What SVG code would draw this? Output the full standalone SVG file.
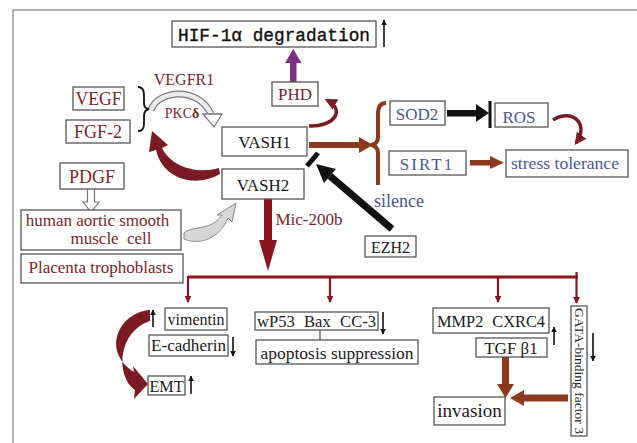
<svg xmlns="http://www.w3.org/2000/svg" width="637" height="443" viewBox="0 0 637 443">
<style>
.box{fill:#fff;stroke:#555;stroke-width:1.3}
.t{font-family:"Liberation Serif",serif;text-anchor:middle}
.red{fill:#7b1f2b}
.blue{fill:#4a5590}
.blk{fill:#1a1a1a}
.thin{stroke:#111;stroke-width:1.6;fill:none;marker-end:url(#ah)}
.drop{stroke:#8a1520;stroke-width:2.2;fill:none;marker-end:url(#ahr)}
</style>
<defs>
<marker id="ah" viewBox="0 0 10 10" refX="9" refY="5" markerWidth="6" markerHeight="6" orient="auto" markerUnits="userSpaceOnUse"><path d="M0,0 L10,5 L0,10 Z" fill="#111"/></marker>
<marker id="ahr" viewBox="0 0 10 10" refX="9" refY="5" markerWidth="7" markerHeight="7" orient="auto" markerUnits="userSpaceOnUse"><path d="M0,0 L10,5 L0,10 Z" fill="#8a1520"/></marker>
<marker id="ahc" viewBox="0 0 10 10" refX="8" refY="5" markerWidth="12" markerHeight="12" orient="auto" markerUnits="userSpaceOnUse"><path d="M0,0 L10,5 L0,10 Z" fill="#7a1a22"/></marker>
</defs>
<rect width="637" height="443" fill="#fff"/>
<path d="M13,443 L13,10 L637,10" fill="none" stroke="#999" stroke-width="1.5"/>

<g id="connectors">
  <!-- purple PHD -> HIF -->
  <rect x="290" y="61" width="6.5" height="21" fill="#7d2f82"/>
  <polygon points="285,63 293.3,49 301.5,63" fill="#7d2f82"/>
  <!-- HIF up arrow -->
  <line x1="384" y1="47" x2="384" y2="20" class="thin"/>
  <!-- VASH1 -> PHD curve -->
  <path d="M309,126 C334,127 346,110 327,100" fill="none" stroke="#7a1a22" stroke-width="3.5" marker-end="url(#ahc)"/>
  <!-- VASH1 -> bracket brown -->
  <rect x="309" y="142" width="52" height="6" fill="#8b3a1e"/>
  <polygon points="359,137 373,145 359,153" fill="#8b3a1e"/>
  <!-- brown bracket -->
  <path d="M386,103 Q378,103 378,114 L378,137 Q378,144 371,145 Q378,146 378,153 L378,185" fill="none" stroke="#8b3a1e" stroke-width="4"/>
  <!-- SOD2 -| ROS -->
  <rect x="447" y="110" width="31" height="6.5" fill="#111"/>
  <polygon points="476,104 489,113 476,122" fill="#111"/>
  <rect x="488.5" y="101" width="3" height="27" fill="#111"/>
  <!-- ROS -> stress tolerance curve -->
  <path d="M553,120 C572,108 590,124 576,143" fill="none" stroke="#7a1a22" stroke-width="3.5" marker-end="url(#ahc)"/>
  <!-- SIRT1 -> stress tolerance -->
  <rect x="470" y="160" width="22" height="5.5" fill="#8b3a1e"/>
  <polygon points="490,156 504,162.7 490,169" fill="#8b3a1e"/>
  <!-- EZH2 -| VASH1 -->
  <line x1="392" y1="229" x2="330" y2="176" stroke="#111" stroke-width="7"/>
  <polygon points="336,169 316,164 324,183" fill="#111"/>
  <line x1="307" y1="166" x2="318" y2="153" stroke="#111" stroke-width="5"/>
  <!-- VEGFR1 / PKCd hollow arc -->
  <path d="M151,110 C158,90 198,86 211,114" fill="none" stroke="#777" stroke-width="7"/>
  <path d="M151,110 C158,90 198,86 211,114" fill="none" stroke="#ececec" stroke-width="4.5"/>
  <polygon points="203,114 222,114 214,127" fill="#fff" stroke="#777" stroke-width="1.3"/>
  <!-- brace black -->
  <path d="M138,87 Q144,87 144,95 L144,103 Q144,109 149,109 Q144,110 144,116 L144,124 Q144,131 138,131" fill="none" stroke="#111" stroke-width="1.8"/>
  <!-- VASH2 -> FGF-2 curve -->
  <path d="M220,174 C196,188 163,180 156,150 L149,152 L152,131 L168,145 L162,148 C172,168 198,174 219,168 Z" fill="#7a1a22"/>
  <!-- PDGF -> human hollow arrow -->
  <path d="M87.5,189 L87.5,202 L83,202 L91,212 L99,202 L94.5,202 L94.5,189" fill="#fff" stroke="#777" stroke-width="1.2"/>
  <!-- human -> VASH2 gray curve -->
  <path d="M184,233 C192,225 210,232 222,215 L217,215 L236,203 L232,222 L228,218 C220,238 200,246 184,239 Z" fill="#d6d6d6" stroke="#888" stroke-width="1"/>
  <!-- VASH2 down arrow -->
  <rect x="264" y="199" width="8" height="43" fill="#8a1520"/>
  <polygon points="259,240 277,240 268,271" fill="#8a1520"/>
  <!-- distribution line -->
  <line x1="188" y1="277" x2="578" y2="277" stroke="#8a1520" stroke-width="3"/>
  <line x1="188" y1="276" x2="188" y2="302" class="drop"/>
  <line x1="330" y1="277" x2="330" y2="302" class="drop"/>
  <line x1="498" y1="277" x2="498" y2="302" class="drop"/>
  <line x1="576.5" y1="272" x2="576.5" y2="303" class="drop"/>
  <!-- EMT big curve -->
  <path d="M150,310 C120,312 100,350 134,372 L133,366 L148,384 L134,399 L135,390 C115,376 118,331 150,321 Z" fill="#7a1a22"/>
  <!-- small up/down arrows -->
  <line x1="153" y1="327" x2="153" y2="310" class="thin"/>
  <line x1="233" y1="337" x2="233" y2="356" class="thin"/>
  <line x1="191" y1="394" x2="191" y2="376" class="thin"/>
  <line x1="383" y1="312" x2="383" y2="334" class="thin"/>
  <line x1="554" y1="345" x2="554" y2="327" class="thin"/>
  <line x1="593" y1="333" x2="593" y2="361" class="thin"/>
  <!-- wP53 -> apoptosis -->
  <line x1="320" y1="330" x2="320" y2="340" stroke="#555" stroke-width="1.3"/>
  <!-- TGF -> invasion -->
  <rect x="502" y="357" width="7" height="28" fill="#8b3a1e"/>
  <polygon points="497,384 514,384 505.5,398" fill="#8b3a1e"/>
  <!-- GATA -> invasion -->
  <rect x="522" y="394.5" width="46" height="7" fill="#8b3a1e"/>
  <polygon points="524,390 510,398 524,406" fill="#8b3a1e"/>
</g>

<g id="hif">
  <rect class="box" x="172" y="21" width="204" height="26"/>
  <text x="274" y="41" font-family="'Liberation Mono',monospace" font-size="19" text-anchor="middle" fill="#111" stroke="#111" stroke-width="0.4" textLength="192" lengthAdjust="spacingAndGlyphs">HIF-1α degradation</text>
</g>
<g id="phd">
  <rect class="box" x="272" y="82" width="46" height="24"/>
  <text class="t red" x="295" y="100" font-size="17">PHD</text>
</g>
<g id="vegf">
  <rect class="box" x="73" y="87" width="51" height="23"/>
  <text class="t red" x="98.5" y="105" font-size="18" textLength="46" lengthAdjust="spacingAndGlyphs">VEGF</text>
</g>
<g id="fgf2">
  <rect class="box" x="66" y="120" width="64" height="23"/>
  <text class="t red" x="98" y="138" font-size="18">FGF-2</text>
</g>
<g id="vegfr1-label">
  <text class="t red" x="184" y="85" font-size="16">VEGFR1</text>
  <text class="t red" x="182" y="118" font-size="14">PKC<tspan font-weight="bold">δ</tspan></text>
</g>
<g id="vash1">
  <rect class="box" x="222" y="127" width="85" height="29"/>
  <text class="t blk" x="264.5" y="148" font-size="17">VASH1</text>
</g>
<g id="vash2">
  <rect class="box" x="222" y="169" width="82" height="30"/>
  <text class="t blk" x="263" y="191" font-size="17">VASH2</text>
</g>
<g id="sod2">
  <rect class="box" x="390" y="101" width="55" height="24"/>
  <text class="t blue" x="417" y="120" font-size="17">SOD2</text>
</g>
<g id="ros">
  <rect class="box" x="495" y="103" width="53" height="24"/>
  <text class="t blue" x="519" y="123" font-size="17">ROS</text>
</g>
<g id="sirt1">
  <rect class="box" x="389" y="151" width="77" height="24"/>
  <text class="t blue" x="427" y="170" font-size="17" letter-spacing="2">SIRT1</text>
</g>
<g id="stress">
  <rect class="box" x="506" y="150" width="122" height="27"/>
  <text class="t blue" x="565" y="169" font-size="17" textLength="108" lengthAdjust="spacingAndGlyphs">stress tolerance</text>
</g>
<g id="silence">
  <text class="t blue" x="399" y="207" font-size="18">silence</text>
</g>
<g id="ezh2">
  <rect class="box" x="365" y="236" width="51" height="21"/>
  <text class="t blk" x="390.5" y="253" font-size="16">EZH2</text>
</g>
<g id="mic200b">
  <text class="t red" x="309" y="225" font-size="17">Mic-200b</text>
</g>
<g id="pdgf">
  <rect class="box" x="60" y="163" width="64" height="26"/>
  <text class="t red" x="92" y="183" font-size="18">PDGF</text>
</g>
<g id="hasmc">
  <rect class="box" x="21" y="210" width="160" height="40"/>
  <text class="t red" x="97.5" y="226" font-size="17">human aortic smooth</text>
  <text class="t red" x="111" y="244" font-size="17" word-spacing="4">muscle cell</text>
</g>
<g id="placenta">
  <rect class="box" x="21" y="254" width="162" height="29"/>
  <text class="t red" x="101" y="273" font-size="17">Placenta trophoblasts</text>
</g>
<g id="vimentin">
  <rect class="box" x="165" y="308" width="62" height="22"/>
  <text class="t blk" x="196" y="325" font-size="16">vimentin</text>
</g>
<g id="ecadherin">
  <rect class="box" x="149" y="335" width="79" height="21"/>
  <text class="t blk" x="188.5" y="351" font-size="17" textLength="75" lengthAdjust="spacingAndGlyphs">E-cadherin</text>
</g>
<g id="emt">
  <rect class="box" x="148" y="376" width="37" height="19"/>
  <text class="t blk" x="166.5" y="392" font-size="16" textLength="34" lengthAdjust="spacingAndGlyphs">EMT</text>
</g>
<g id="wp53">
  <rect class="box" x="255" y="312" width="123" height="18"/>
  <text class="t blk" x="316.5" y="327" font-size="16" word-spacing="5" textLength="119" lengthAdjust="spacingAndGlyphs">wP53 Bax CC-3</text>
</g>
<g id="apoptosis">
  <rect class="box" x="256" y="340" width="162" height="24"/>
  <text class="t blk" x="337" y="359" font-size="17.5">apoptosis suppression</text>
</g>
<g id="mmp2">
  <rect class="box" x="433" y="308" width="116" height="25"/>
  <text class="t blk" x="491" y="327" font-size="17" word-spacing="5" textLength="108" lengthAdjust="spacingAndGlyphs">MMP2 CXRC4</text>
</g>
<g id="tgfb1">
  <rect class="box" x="476" y="338" width="71" height="19"/>
  <text class="t blk" x="511" y="354" font-size="17">TGF β1</text>
</g>
<g id="invasion">
  <rect class="box" x="434" y="397" width="71" height="28"/>
  <text class="t blk" x="469.5" y="417" font-size="19">invasion</text>
</g>
<g id="gata3">
  <rect class="box" x="571" y="306" width="16" height="130"/>
  <text class="t blk" x="0" y="0" font-size="13" transform="translate(575,371) rotate(90)" textLength="126" lengthAdjust="spacingAndGlyphs">GATA-binding factor 3</text>
</g>
</svg>
